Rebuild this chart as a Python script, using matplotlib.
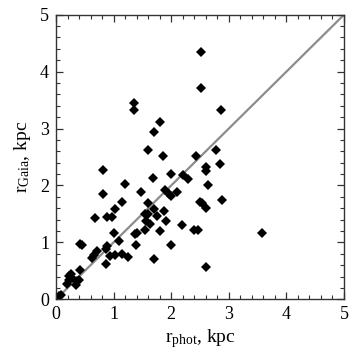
import matplotlib
matplotlib.use("Agg")
import matplotlib.pyplot as plt
from matplotlib.ticker import MultipleLocator

# r_phot vs r_Gaia, kpc
r_phot = [2.52, 2.52, 1.36, 1.36, 2.86, 1.81, 1.70, 1.59, 2.77, 1.85,
          2.43, 2.85, 2.60, 2.60, 0.82, 2.00, 1.68, 2.20, 2.29, 1.20,
          2.63, 0.82, 1.47, 1.90, 1.96, 2.00, 2.10, 1.15, 1.59, 2.50,
          2.54, 2.89, 2.60, 1.03, 1.70, 1.88, 1.55, 1.60, 0.67, 0.88,
          0.98, 1.76, 1.56, 1.64, 1.91, 2.19, 1.01, 1.37, 1.41, 1.54,
          1.81, 2.40, 2.46, 3.57, 1.10, 0.41, 0.45, 1.39, 1.99, 0.89,
          0.86, 0.71, 0.66, 0.63, 0.94, 1.02, 1.15, 1.25, 0.86, 1.70,
          2.60, 0.41, 0.26, 0.23, 0.22, 0.28, 0.36, 0.40, 0.35, 0.19,
          0.08, 0.05]
r_gaia = [4.34, 3.71, 3.45, 3.33, 3.33, 3.12, 2.94, 2.62, 2.62, 2.51,
          2.51, 2.38, 2.32, 2.26, 2.27, 2.21, 2.13, 2.18, 2.12, 2.03,
          2.00, 1.85, 1.89, 1.92, 1.85, 1.82, 1.89, 1.71, 1.69, 1.71,
          1.69, 1.74, 1.60, 1.58, 1.58, 1.56, 1.49, 1.50, 1.42, 1.44,
          1.44, 1.46, 1.37, 1.32, 1.37, 1.31, 1.17, 1.15, 1.16, 1.21,
          1.20, 1.21, 1.21, 1.16, 1.02, 0.97, 0.95, 0.96, 0.95, 0.93,
          0.88, 0.85, 0.77, 0.73, 0.76, 0.77, 0.79, 0.74, 0.62, 0.70,
          0.56, 0.52, 0.44, 0.41, 0.34, 0.37, 0.32, 0.34, 0.26, 0.27,
          0.08, 0.05]
one_to_one = [0, 5]

plt.rcParams["font.family"] = "Liberation Serif"
plt.rcParams["mathtext.fontset"] = "custom"
plt.rcParams["mathtext.rm"] = "Liberation Serif"

fig = plt.figure(figsize=(3.6, 3.57), dpi=100)
ax = fig.add_axes([0.1556, 0.1616, 0.8, 0.7972])

ax.plot(one_to_one, one_to_one, color="#8c8c8c", linewidth=1.6, zorder=1)
ax.plot(r_phot, r_gaia, linestyle="none", marker="D", markersize=4.6,
        color="black", markeredgewidth=0, zorder=2)

ax.set_xlim(0, 5)
ax.set_ylim(0, 5)
ax.xaxis.set_major_locator(MultipleLocator(1))
ax.yaxis.set_major_locator(MultipleLocator(1))
ax.xaxis.set_minor_locator(MultipleLocator(0.2))
ax.yaxis.set_minor_locator(MultipleLocator(0.2))
ax.tick_params(which="both", direction="in", top=True, right=True,
               labelsize=13, color="#333333")
ax.tick_params(which="major", length=5, width=0.9, pad=5)
ax.tick_params(which="minor", length=3, width=0.8)
for s in ax.spines.values():
    s.set_linewidth(1.0)
    s.set_color("#333333")

ax.set_xlabel(r"$\mathrm{r_{phot}}$, kpc", fontsize=14, labelpad=3)
ax.set_ylabel(r"$\mathrm{r_{Gaia}}$, kpc", fontsize=14, labelpad=5)

fig.savefig("out.png", dpi=100)
